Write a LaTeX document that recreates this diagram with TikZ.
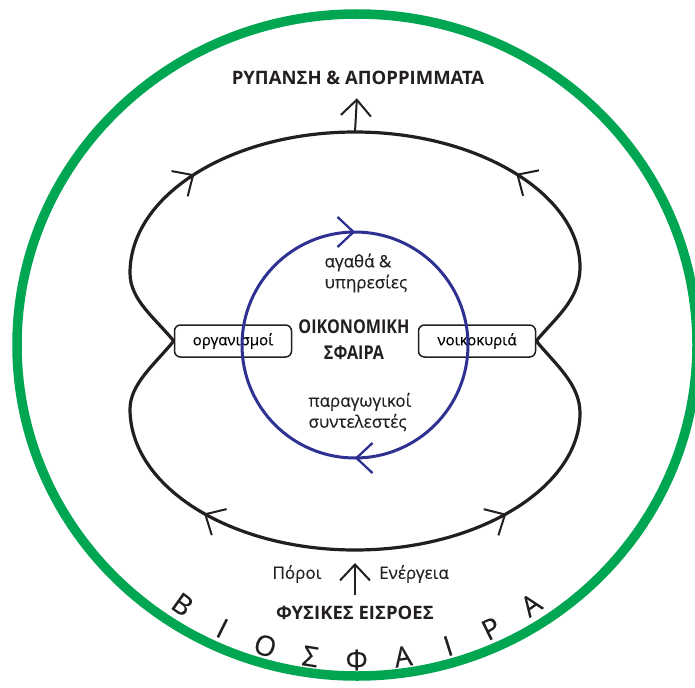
\documentclass[tikz,border=0pt]{standalone}
\usepackage{fontspec}
\setmainfont{Open Sans}
\newfontfamily\bodyfont[FakeBold=0.3]{Open Sans}
\newfontfamily\headfont{Open Sans}
\newfontfamily\econfont[FakeStretch=0.85]{Open Sans}
\usepackage{tikz}
\usetikzlibrary{arrows.meta, positioning, calc, decorations.markings}
\usepackage{xcolor}

\definecolor{bioGreen}{RGB}{0,166,81}
\definecolor{ecoBlue}{RGB}{46,49,146}
\definecolor{inkBlack}{RGB}{35,31,32}

\tikzset{
  barb/.style={-{Straight Barb[length=16pt,width=30pt,line width=2pt]}},
  midbarb/.style={postaction={decorate},
    decoration={markings, mark=at position #1 with {\arrow{Straight Barb[length=16pt,width=30pt,line width=2pt]}}}},
  flowline/.style={draw=inkBlack, line width=3.2pt},
  agent/.style={draw=inkBlack, line width=1.5pt, rounded corners=6pt, fill=white,
    minimum width=117pt, minimum height=32pt, inner sep=0pt, font=\bodyfont\fontsize{15}{17}\selectfont},
  heading/.style={text=inkBlack, font=\headfont\bfseries\fontsize{18.5}{20}\selectfont},
  plain/.style={text=inkBlack, font=\bodyfont\fontsize{17}{21}\selectfont},
}

\begin{document}
\begin{tikzpicture}[x=1pt, y=1pt]
            \useasboundingbox (0,0) rectangle (695,-687);

            % biosphere
            \draw[bioGreen, line width=9.5pt] (357,-345) ellipse [x radius=340, y radius=331];
            \foreach \ch [count=\i] in {Β,Ι,Ο,Σ,Φ,Α,Ι,Ρ,Α} {
              \pgfmathsetmacro{\ang}{234.7+(\i-1)*8.81}
              \node[text=inkBlack, font=\bodyfont\fontsize{28}{28}\selectfont, rotate=\ang+90]
                (bio\i) at ($(357,-358)+(\ang:302)$) {\ch};
            }

            % nodes
            \node[heading] (waste) at (358,-78) {ΡΥΠΑΝΣΗ \& ΑΠΟΡΡΙΜΜΑΤΑ};
            \node[heading] (inputs) at (355,-613) {ΦΥΣΙΚΕΣ ΕΙΣΡΟΕΣ};
            \node[plain] (res) at (297,-574) {Πόροι};
            \node[plain] (energy) at (414,-574) {Ενέργεια};
            \node[agent] (firms) at (233,-341) {οργανισμοί};
            \node[agent] (homes) at (477,-341) {νοικοκυριά};
            \node[heading, font=\econfont\bfseries\fontsize{19}{26}\selectfont, align=center]
              (econ) at (354,-340) {ΟΙΚΟΝΟΜΙΚΗ\\ΣΦΑΙΡΑ};
            \node[plain, align=left, anchor=west] (goods) at (321,-273) {αγαθά \&\\υπηρεσίες};
            \node[plain, align=left, anchor=west] (factors) at (305,-412) {παραγωγικοί\\συντελεστές};

            \coordinate (topc) at (355,-132);
            \coordinate (botc) at (355,-550);

            % economic circle
            \draw[ecoBlue, line width=3pt, midbarb=0.25, midbarb=0.75]
              (468,-345) arc[start angle=360, end angle=0, radius=113];

            % flows through the economy
            \draw[flowline, midbarb=0.55] (firms.west) .. controls (155,-318) and (130,-300) .. (130,-273)
              .. controls (130,-195) and (231,-132) .. (topc);
            \draw[flowline, midbarb=0.55] (homes.east) .. controls (555,-318) and (580,-300) .. (580,-267)
              .. controls (580,-195) and (479,-132) .. (topc);
            \draw[flowline, midbarb=0.42] (botc) .. controls (231,-550) and (130,-487) .. (130,-409)
              .. controls (130,-384) and (155,-364) .. (firms.west);
            \draw[flowline, midbarb=0.42] (botc) .. controls (479,-550) and (580,-487) .. (580,-413)
              .. controls (580,-384) and (555,-364) .. (homes.east);

            \draw[inkBlack, line width=2pt, barb, shorten >=10pt] (topc) -- (waste);
            \draw[inkBlack, line width=2pt, barb, shorten <=8pt, shorten >=13pt] (inputs) -- (botc);
\end{tikzpicture}
\end{document}
